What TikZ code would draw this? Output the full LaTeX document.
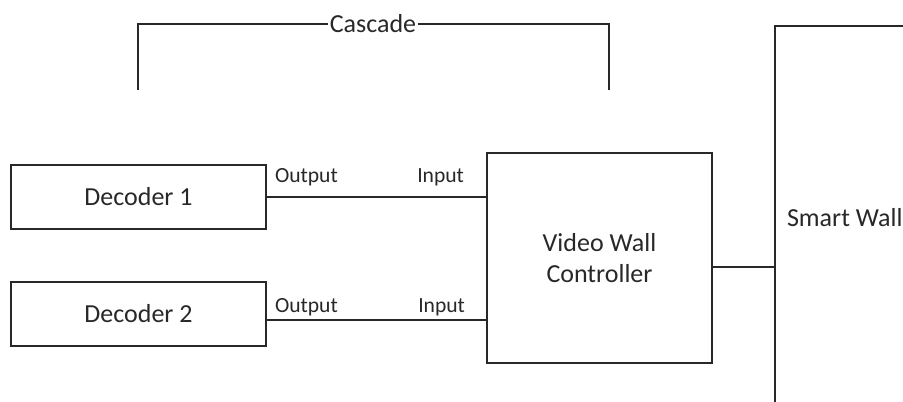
\documentclass[tikz,border=0pt]{standalone}
\usepackage{fontspec}
\setmainfont{Carlito}
\usetikzlibrary{positioning}
\definecolor{ink}{RGB}{40,40,40}

\begin{document}
\begin{tikzpicture}[
  x=0.5pt, y=-0.5pt,
  node distance=25.5pt,
  unit/.style={draw=ink, line width=1pt, text=ink, font=\fontsize{13}{15.5}\selectfont, align=center},
  port/.style={text=ink, font=\fontsize{10.8}{13}\selectfont, inner sep=0pt},
  wire/.style={draw=ink, line width=1pt},
]
\useasboundingbox (0,0) rectangle (903,401);
\clip (0,0) rectangle (903,401);

\node[unit, minimum width=127.5pt, minimum height=32pt] (dec1) at (138.5,197) {Decoder 1};
\node[unit, minimum width=127.5pt, minimum height=32pt, below=of dec1] (dec2) {Decoder 2};
\node[unit, minimum width=112.5pt, minimum height=105pt] (vwc) at (599.5,258) {Video Wall\\Controller};
\node[unit, anchor=north west, minimum height=192pt, text width=150pt, inner xsep=6pt, align=flush left] (wall) at (774,25) {Smart Wall};

% cascade bracket over the inputs
\node[port, font=\fontsize{13}{15.5}\selectfont, inner xsep=0.5pt, anchor=base] (cascade) at (373,33) {Cascade};
\coordinate (cl) at (138,90);
\coordinate (cr) at (609,90);
\draw[wire] (cl) |- (cascade.west);
\draw[wire] (cascade.east) -| (cr);

\draw[wire] (dec1.east) -- (dec1.east -| vwc.west)
  node[port, pos=0, anchor=base west, xshift=3.5pt, yshift=7.5pt] {Output}
  node[port, pos=1, anchor=base east, xshift=-10.5pt, yshift=7.5pt] {Input};

\coordinate (d2out) at ([yshift=-3pt]dec2.east);
\draw[wire] (d2out) -- (d2out -| vwc.west)
  node[port, pos=0, anchor=base west, xshift=3.5pt, yshift=4pt] {Output}
  node[port, pos=1, anchor=base east, xshift=-10pt, yshift=4pt] {Input};

\coordinate (vout) at ([yshift=-4.5pt]vwc.east);
\draw[wire] (vout) -- (vout -| wall.west);
\end{tikzpicture}
\end{document}
